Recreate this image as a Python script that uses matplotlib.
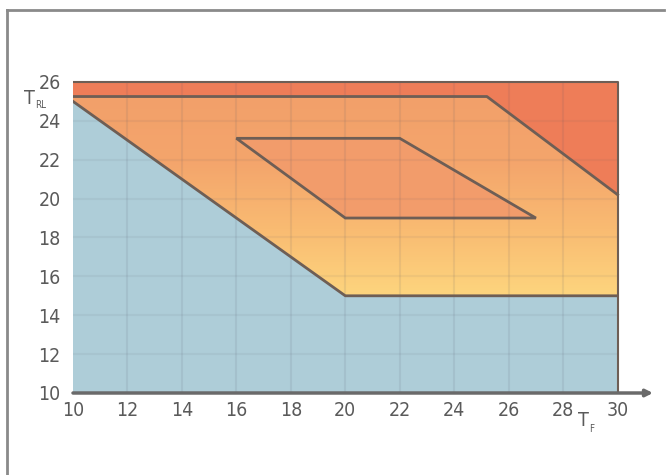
import numpy as np
import matplotlib
matplotlib.use("Agg")
from matplotlib import pyplot as plt
from matplotlib.patches import Polygon
from matplotlib.colors import LinearSegmentedColormap

# axis ticks
x_ticks = [10, 12, 14, 16, 18, 20, 22, 24, 26, 28, 30]
y_ticks = [10, 12, 14, 16, 18, 20, 22, 24, 26]

# lower (blue) zone boundary
blue_tf = [10, 20, 30]
blue_trl = [25, 15, 15]

# upper (red) zone boundary
red_top = 26
red_line = 25.25
red_tf = [25.2, 30]
red_trl = [25.25, 20.2]

# inner parallelogram
par_tf = [16, 22, 27, 20]
par_trl = [23.1, 23.1, 19, 19]

plt.rcParams['font.family'] = ['DejaVu Sans']
plt.rcParams['font.stretch'] = 'condensed'
fig = plt.figure(figsize=(6.67, 4.75), dpi=100)

txt_c = "#5a5a5a"
font = dict(family="DejaVu Sans", stretch="condensed", color=txt_c)

# frame lines (top and left only)
fig.add_artist(plt.Line2D([7/667, 0.995], [1 - 10/475, 1 - 10/475], color="#8a8a8a", lw=2))
fig.add_artist(plt.Line2D([7/667, 7/667], [0, 1 - 10/475], color="#8a8a8a", lw=2))

ax = fig.add_axes([73/667, 82/475, 580/667, 330.5/475])
ax.set_xlim(10, 31.3)
ax.set_ylim(10, 27)
for s in ax.spines.values():
    s.set_visible(False)

line_c = "#6e5e55"

# blue zone
blue_poly = list(zip(blue_tf, blue_trl)) + [(30, 10), (10, 10)]
ax.add_patch(Polygon(blue_poly, closed=True, fc="#aecdd8", ec="none", zorder=1))

# orange zone with gradient
orange_poly = [(10, red_line), (red_tf[0], red_trl[0]), (red_tf[1], red_trl[1]),
               (30, blue_trl[2]), (blue_tf[1], blue_trl[1]), (blue_tf[0], blue_trl[0])]
p = Polygon(orange_poly, closed=True, fc="none", ec="none", zorder=1)
ax.add_patch(p)
cmap = LinearSegmentedColormap.from_list("o", ["#fdd57e", "#f9bb72", "#f4a56c", "#f2a06a"])
grad = np.linspace(0, 1, 256).reshape(-1, 1)
im = ax.imshow(grad, extent=[10, 30, 15, 25.3], origin="lower", cmap=cmap,
               aspect="auto", zorder=1)
im.set_clip_path(p)

# red zone
red_poly = [(10, red_top), (30, red_top), (red_tf[1], red_trl[1]),
            (red_tf[0], red_trl[0]), (10, red_line)]
ax.add_patch(Polygon(red_poly, closed=True, fc="#ee7d58", ec="none", zorder=2))

# parallelogram
ax.add_patch(Polygon(list(zip(par_tf, par_trl)), closed=True, fc="#f29c6b",
                     ec=line_c, lw=2, zorder=3))

# faint grid
for xv in x_ticks[1:-1]:
    ax.plot([xv, xv], [10, red_top], color="#556", alpha=0.1, lw=1.5, zorder=4)
for yv in y_ticks[1:-1]:
    ax.plot([10, 30], [yv, yv], color="#556", alpha=0.07, lw=1.5, zorder=4)

# boundary lines
ax.plot(blue_tf, blue_trl, color=line_c, lw=2, zorder=5)
ax.plot([10, red_tf[0]] + red_tf[1:], [red_line, red_trl[0]] + red_trl[1:],
        color=line_c, lw=2, zorder=5)
ax.plot([10, 30, 30], [red_top, red_top, 10], color=line_c, lw=1.5, zorder=5)

# axes with arrows
ax.annotate("", xy=(31.3, 10), xytext=(10, 10),
            arrowprops=dict(arrowstyle="-|>", color="#6a6a6a", lw=2.5,
                            mutation_scale=10, shrinkA=0, shrinkB=0), zorder=6)
ax.annotate("", xy=(10, 27.2), xytext=(10, 10),
            arrowprops=dict(arrowstyle="-|>", color="#6a6a6a", lw=3,
                            mutation_scale=8, shrinkA=0, shrinkB=0), zorder=6)

ax.set_xticks(x_ticks)
ax.set_yticks(y_ticks)
ax.set_xticklabels([str(v) for v in x_ticks], fontsize=14, **font)
ax.set_yticklabels([str(v) for v in y_ticks], fontsize=14, **font)
ax.tick_params(axis="x", length=0, pad=6)
ax.tick_params(axis="y", length=0, pad=9)

fig.text(24/667, 1 - 98/475, "T", fontsize=14, va="center", **font)
fig.text(35/667, 1 - 105/475, "RL", fontsize=7, va="center", **font)
fig.text(578/667, 1 - 420/475, "T", fontsize=14, va="center", **font)
fig.text(589/667, 1 - 429/475, "F", fontsize=7, va="center", **font)

fig.savefig("out.png", dpi=100)
